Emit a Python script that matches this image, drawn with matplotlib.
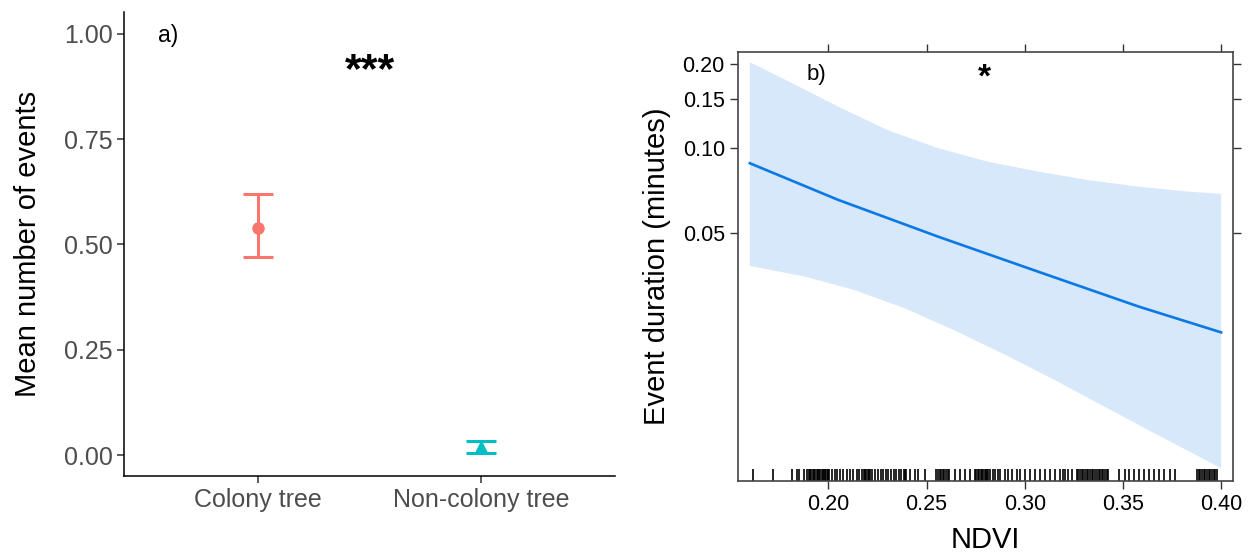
import numpy as np
import matplotlib
matplotlib.use("Agg")
import matplotlib.pyplot as plt

plt.rcParams['font.family'] = ['Liberation Sans', 'DejaVu Sans']

# panel a) data
groups = ["Colony tree", "Non-colony tree"]
group_mean = [0.539, 0.018]
group_low = [0.469, 0.004]
group_high = [0.620, 0.034]
group_colors = ["#F8766D", "#00BFC4"]
group_markers = ["o", "^"]

# panel b) fitted effect (log scale) and 95% band
ndvi_fit = [0.160, 0.205, 0.256, 0.307, 0.358, 0.400]
dur_fit = [0.0884, 0.0654, 0.0483, 0.0362, 0.0272, 0.0220]
ndvi_up = [0.160, 0.180, 0.205, 0.230, 0.256, 0.281, 0.307, 0.332, 0.358, 0.383, 0.400]
band_upper = [0.2029, 0.1729, 0.1408, 0.1162, 0.1000, 0.0896, 0.0825, 0.0770, 0.0729, 0.0700, 0.0687]
ndvi_lo = [0.160, 0.188, 0.213, 0.239, 0.264, 0.290, 0.315, 0.341, 0.366, 0.400]
band_lower = [0.0380, 0.0348, 0.0312, 0.0268, 0.0224, 0.0183, 0.0149, 0.0119, 0.0096, 0.0072]

# observed NDVI values (rug)
ndvi_obs = [0.1615, 0.1720,
            0.1814, 0.1838, 0.1852, 0.1876, 0.1890, 0.1899, 0.1906, 0.1913, 0.1920,
            0.1926, 0.1933, 0.1940, 0.1946, 0.1952, 0.1959, 0.1965, 0.1971, 0.1978,
            0.1984, 0.1990, 0.1996, 0.2000,
            0.2005, 0.2019, 0.2032, 0.2046, 0.2060, 0.2076, 0.2094, 0.2110, 0.2127,
            0.2144, 0.2158, 0.2170, 0.2182, 0.2188, 0.2194, 0.2200, 0.2207, 0.2214,
            0.2221, 0.2238, 0.2255, 0.2267, 0.2280, 0.2294, 0.2306, 0.2318, 0.2333,
            0.2346, 0.2358, 0.2370, 0.2384, 0.2391,
            0.2396, 0.2416, 0.2442, 0.2458, 0.2492, 0.2549, 0.2557, 0.2566, 0.2574,
            0.2583, 0.2591, 0.2600, 0.2608, 0.2616, 0.2645, 0.2671, 0.2696, 0.2722,
            0.2747, 0.2754, 0.2761, 0.2768, 0.2775, 0.2782, 0.2789, 0.2796, 0.2803,
            0.2809, 0.2815,
            0.2824, 0.2837, 0.2849, 0.2863, 0.2875, 0.2900, 0.2917, 0.2934, 0.2960,
            0.2977, 0.3002, 0.3027, 0.3053, 0.3078, 0.3104, 0.3129, 0.3155, 0.3180,
            0.3194, 0.3206, 0.3218, 0.3240, 0.3265, 0.3273, 0.3282, 0.3290, 0.3299,
            0.3307, 0.3316, 0.3324, 0.3333, 0.3341, 0.3350, 0.3359, 0.3367, 0.3376,
            0.3384, 0.3393, 0.3401, 0.3410, 0.3418, 0.3426,
            0.3482, 0.3508, 0.3533, 0.3557, 0.3583, 0.3608, 0.3633, 0.3659, 0.3684,
            0.3710, 0.3740, 0.3766,
            0.3877, 0.3885, 0.3894, 0.3902, 0.3911, 0.3919, 0.3928, 0.3936, 0.3945,
            0.3953, 0.3962, 0.3970, 0.3979]

fig = plt.figure(figsize=(12.52, 5.56), dpi=100)

# ---- panel a ----
ax1 = fig.add_axes([0.0994, 0.1435, 0.3919, 0.8342])
xpos = np.arange(1, len(groups) + 1)
for i in range(len(groups)):
    m = group_mean[i]
    yerr = [[m - group_low[i]], [group_high[i] - m]]
    ax1.errorbar([xpos[i]], [m], yerr=yerr, fmt=group_markers[i], color=group_colors[i],
                 ms=8, elinewidth=2.2, capsize=10.5, capthick=2.2)

ax1.set_xlim(0.4, 2.6)
ax1.set_ylim(-0.0503, 1.0506)
ax1.set_xticks(xpos)
ax1.set_xticklabels(groups)
ax1.set_yticks([0, 0.25, 0.5, 0.75, 1.0])
ax1.set_yticklabels(["0.00", "0.25", "0.50", "0.75", "1.00"])
ax1.tick_params(labelsize=18, labelcolor="#4D4D4D", color="#333333", length=5, width=1.1)
ax1.spines['top'].set_visible(False)
ax1.spines['right'].set_visible(False)
for s in ['left', 'bottom']:
    ax1.spines[s].set_linewidth(1.1)
ax1.set_ylabel("Mean number of events", fontsize=21, labelpad=16)
ax1.text(0.596, 0.996, "a)", fontsize=16.5, ha='center', va='center')
ax1.text(1.5, 0.912, "***", fontsize=31, fontweight='bold', ha='center', va='center')

# ---- panel b ----
ax2 = fig.add_axes([0.5895, 0.1349, 0.3954, 0.7716])
ax2.set_yscale('log')
poly_x = ndvi_up + ndvi_lo[::-1]
poly_y = band_upper + band_lower[::-1]
ax2.fill(poly_x, poly_y, color="#d6e8fa", lw=0)
ax2.plot(ndvi_fit, dur_fit, color="#0a78e6", lw=1.9)
ax2.vlines(ndvi_obs, 0, 0.027, transform=ax2.get_xaxis_transform(), color="black", lw=1.2)

ax2.set_xlim(0.154, 0.4061)
ax2.set_ylim(0.00648, 0.2207)
ax2.set_xticks([0.20, 0.25, 0.30, 0.35, 0.40])
ax2.set_xticklabels(["0.20", "0.25", "0.30", "0.35", "0.40"])
ax2.set_yticks([0.05, 0.10, 0.15, 0.20])
ax2.set_yticklabels(["0.05", "0.10", "0.15", "0.20"])
ax2.yaxis.set_minor_locator(matplotlib.ticker.NullLocator())
ax2.tick_params(labelsize=15.5, direction='out', length=6, width=1, color="#333333",
                top=True, right=True, labeltop=False, labelright=False)
for s in ax2.spines.values():
    s.set_color("#444444")
    s.set_linewidth(1.2)
ax2.set_xlabel("NDVI", fontsize=21, labelpad=8)
ax2.set_ylabel("Event duration (minutes)", fontsize=21, labelpad=8)
ax2.text(0.194, 0.183, "b)", fontsize=16, ha='center', va='center')
ax2.text(0.2797, 0.178, "*", fontsize=24, fontweight='bold', ha='center', va='center')

fig.savefig("out.png", dpi=100)
